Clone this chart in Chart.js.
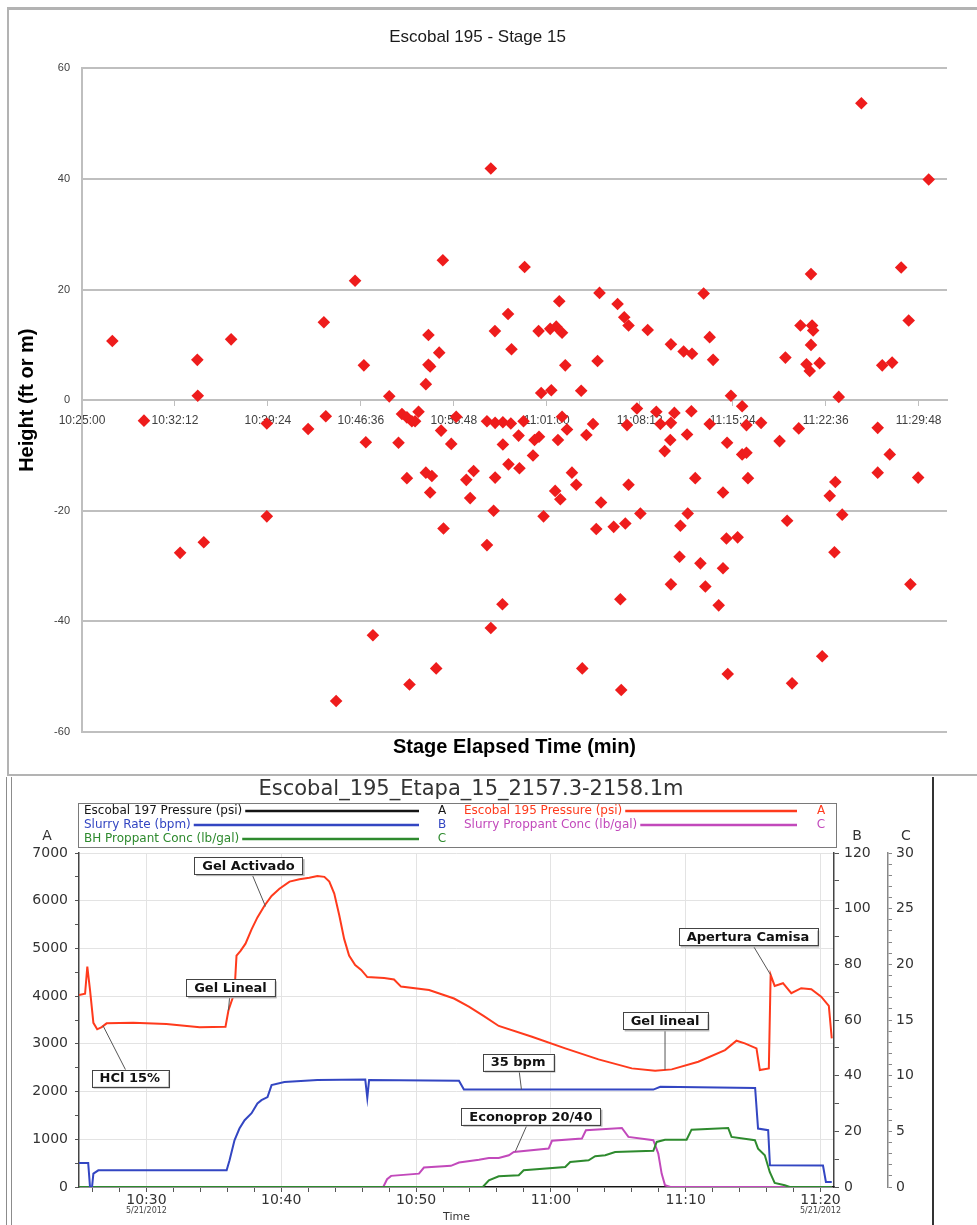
<!DOCTYPE html>
<html lang="en">
<head>
<meta charset="UTF-8">
<title>Escobal 195 - Stage 15</title>
<script src="https://cdn.jsdelivr.net/npm/chart.js"></script>
<style>
  body { margin: 0; background: #fff; width: 977px; height: 1225px; position: relative; overflow: hidden; }
  #topChart { position: absolute; left: 8px; top: 8px; }
  #bottomChart { position: absolute; left: 10px; top: 777px; }
  .frame { position: absolute; pointer-events: none; box-sizing: border-box; }
</style>
</head>
<body>
<div class="frame" style="left:7px;top:7px;width:970px;height:769px;border-top:3px solid #b3b3b3;border-left:2px solid #b3b3b3;border-bottom:2px solid #b3b3b3"></div>
<div class="frame" style="left:6px;top:777px;width:1px;height:448px;background:#8c8c8c"></div>
<div class="frame" style="left:11px;top:777px;width:1px;height:448px;background:#8c8c8c"></div>
<div class="frame" style="left:932px;top:777px;width:2px;height:448px;background:#333"></div>
<canvas id="topChart" width="969" height="767"></canvas>
<canvas id="bottomChart" width="921" height="448"></canvas>

<script>
// ---------- top chart data (microseismic events) ----------
const scatterTimes = [
  '10:27:21','10:29:48','10:32:36','10:33:56','10:33:58','10:34:26','10:36:33','10:39:19','10:39:19','10:42:31',
  '10:43:44','10:43:53','10:44:41','10:46:09','10:46:50','10:46:59','10:47:32','10:48:48','10:49:31','10:49:47',
  '10:50:10','10:50:10','10:50:22','10:50:33','10:50:48','10:51:04','10:51:38','10:51:38','10:51:50','10:51:50',
  '10:51:58','10:51:58','10:52:06','10:52:26','10:52:40','10:52:49','10:52:57','10:53:00','10:53:36','10:53:59',
  '10:54:46','10:55:04','10:55:20','10:56:22','10:56:22','10:56:40','10:56:40','10:56:53','10:56:59','10:57:00',
  '10:57:00','10:57:34','10:57:36','10:57:36','10:58:00','10:58:02','10:58:13','10:58:16','10:58:49','10:58:53',
  '10:59:12','10:59:17','10:59:56','11:00:03','11:00:22','11:00:24','11:00:34','11:00:45','11:01:16','11:01:21',
  '11:01:39','11:01:44','11:01:52','11:01:58','11:02:03','11:02:11','11:02:11','11:02:26','11:02:34','11:02:57',
  '11:03:17','11:03:40','11:03:45','11:04:04','11:04:35','11:04:50','11:04:56','11:05:05','11:05:12','11:06:11',
  '11:06:29','11:06:42','11:06:46','11:07:00','11:07:05','11:07:13','11:07:20','11:07:20','11:07:59','11:08:15',
  '11:08:49','11:09:29','11:09:48','11:10:08','11:10:34','11:10:37','11:10:37','11:10:37','11:10:53','11:11:17',
  '11:11:21','11:11:36','11:11:52','11:11:55','11:12:12','11:12:15','11:12:30','11:12:54','11:13:09','11:13:17',
  '11:13:37','11:13:37','11:13:53','11:14:19','11:14:39','11:14:39','11:14:55','11:14:58','11:15:01','11:15:16',
  '11:15:47','11:16:08','11:16:08','11:16:28','11:16:28','11:16:35','11:17:36','11:19:02','11:19:29','11:19:37',
  '11:20:00','11:20:31','11:20:39','11:21:07','11:21:22','11:21:28','11:21:28','11:21:33','11:21:38','11:22:08',
  '11:22:20','11:22:55','11:23:17','11:23:21','11:23:37','11:23:53','11:25:22','11:26:38','11:26:38','11:26:59',
  '11:27:34','11:27:45','11:28:27','11:29:02','11:29:10','11:29:46','11:30:35'
];
const scatterHeights = [
  10.7, -3.7, -27.6, 7.3, 0.8, -25.7, 11.0, -4.2, -21.0, -5.2,
  14.1, -2.9, -54.4, 21.6, 6.3, -7.6, -42.5, 0.7, -7.7, -2.5,
  -3.1, -14.1, -51.4, -3.8, -3.8, -2.1, 2.9, -13.1, 11.8, 6.4,
  6.1, -16.7, -13.7, -48.5, 8.6, -5.5, 25.3, -23.2, -7.9, -3.0,
  -14.4, -17.7, -12.8, -3.8, -26.2, 41.9, -41.2, -20.0, 12.5, -4.1,
  -14.0, -36.9, -4.0, -8.0, 15.6, -11.6, -4.2, 9.2, -6.4, -12.3,
  -3.8, 24.1, -10.0, -7.2, 12.5, -6.6, 1.3, -21.0, 12.9, 1.8,
  -16.4, 13.3, -7.2, 17.9, -17.9, 12.2, -3.0, 6.3, -5.3, -13.1,
  -15.3, 1.7, -48.5, -6.3, -4.3, -23.3, 7.1, 19.4, -18.5, -22.9,
  17.4, -36.0, -52.4, 15.0, -22.3, -4.5, 13.5, -15.3, -1.5, -20.5,
  12.7, -2.1, -4.3, -9.2, -7.2, 10.1, -4.1, -33.3, -2.3, -28.3,
  -22.7, 8.8, -6.2, -20.5, -2.0, 8.4, -14.1, -29.5, 19.3, -33.7,
  11.4, -4.3, 7.3, -37.1, -16.7, -30.4, -25.0, -7.7, -49.5, 0.8,
  -24.8, -1.1, -9.8, -9.5, -4.5, -14.1, -4.1, -7.4, 7.7, -21.8,
  -51.2, -5.1, 13.5, 6.5, 5.3, 22.8, 10.0, 13.5, 12.6, 6.7,
  -46.3, -17.3, -27.5, -14.8, 0.6, -20.7, 53.7, -5.0, -13.1, 6.3,
  -9.8, 6.8, 24.0, 14.4, -33.3, -14.0, 39.9
];
const scatterXTicks = ['10:25:00','10:32:12','10:39:24','10:46:36','10:53:48','11:01:00','11:08:12','11:15:24','11:22:36','11:29:48'];
const scatterRange = ['10:25:00', '11:32:00'];
const heightTicks = [-60, -40, -20, 0, 20, 40, 60];

// ---------- bottom chart data (treatment plot) ----------
const press197Times = ['10:25:00', '11:21:00'];
const press197Values = [0, 0];

const press195Times = ['10:25:00','10:25:27','10:25:37','10:25:49','10:26:04','10:26:21','10:26:41','10:27:03','10:29:01','10:31:29',
  '10:33:57','10:35:52','10:36:05','10:36:23','10:36:32','10:36:41','10:36:59','10:37:21','10:37:48','10:38:14',
  '10:38:46','10:39:17','10:39:52','10:40:37','10:41:21','10:42:05','10:42:41','10:43:12','10:43:34','10:43:56',
  '10:44:18','10:44:40','10:45:02','10:45:29','10:45:56','10:46:23','10:47:38','10:48:22','10:48:53','10:50:58',
  '10:52:49','10:53:55','10:55:02','10:56:08','10:58:36','11:01:04','11:03:32','11:06:00','11:07:44','11:08:58',
  '11:10:56','11:12:55','11:13:46','11:14:23','11:15:15','11:15:30','11:16:10','11:16:18','11:16:36','11:17:13',
  '11:17:50','11:18:34','11:19:19','11:20:03','11:20:37','11:20:50'];
const press195Values = [4025, 4050, 4620, 4130, 3440, 3305, 3350, 3430, 3440, 3417,
  3347, 3360, 3700, 3950, 4100, 4850, 4950, 5100, 5400, 5650,
  5900, 6100, 6250, 6400, 6450, 6480, 6520, 6500, 6400, 6150,
  5700, 5200, 4850, 4650, 4550, 4400, 4380, 4350, 4200, 4130,
  3950, 3780, 3580, 3375, 3150, 2906, 2675, 2486, 2436, 2465,
  2625, 2870, 3066, 3011, 2906, 2450, 2486, 4446, 4215, 4271,
  4061, 4166, 4145, 3990, 3795, 3116];

const rateTimes = ['10:25:00','10:25:41','10:25:49','10:25:58','10:26:04','10:26:26','10:35:57','10:36:10','10:36:32','10:36:54',
  '10:37:17','10:37:48','10:38:14','10:38:32','10:38:59','10:39:17','10:40:14','10:42:41','10:46:14','10:46:23',
  '10:46:31','10:53:11','10:53:33','11:07:36','11:08:07','11:15:09','11:15:22','11:16:07','11:16:15','11:20:11',
  '11:20:24','11:20:50'];
const rateValues = [8.6, 8.6, 0, 0, 4.8, 6.0, 6.0, 9.6, 16.8, 21,
  24, 26.5, 30, 31.2, 32.3, 36.6, 37.7, 38.4, 38.6, 32,
  38.4, 38.2, 35.0, 35.0, 36.0, 35.6, 21, 20.4, 7.8, 7.7,
  1.8, 1.8];

const slurryConcTimes = ['10:25:00','10:47:34','10:47:51','10:48:09','10:50:13','10:50:35','10:52:35','10:53:11','10:54:40','10:55:24',
  '10:56:08','10:56:53','10:57:15','10:59:50','11:00:05','11:02:18','11:02:36','11:05:16','11:05:45','11:07:36',
  '11:07:58','11:08:13','11:08:28','11:08:52','11:20:50'];
const slurryConcValues = [0, 0, 0.7, 1.0, 1.2, 1.75, 1.9, 2.2, 2.45, 2.6,
  2.6, 2.85, 3.15, 3.45, 4.15, 4.35, 5.1, 5.3, 4.5, 4.2,
  3.0, 1.2, 0.15, 0, 0];

const bhConcTimes = ['10:25:00','10:54:57','10:55:24','10:56:08','10:57:37','10:57:59','11:01:04','11:01:26','11:02:48','11:03:17',
  '11:04:02','11:04:46','11:07:36','11:07:51','11:08:28','11:10:04','11:10:26','11:13:09','11:13:24','11:15:08',
  '11:15:22','11:15:52','11:16:14','11:16:36','11:17:21','11:17:43','11:20:50'];
const bhConcValues = [0, 0, 0.6, 0.96, 1.05, 1.5, 1.8, 2.25, 2.4, 2.76,
  2.85, 3.15, 3.25, 4.05, 4.25, 4.25, 5.15, 5.3, 4.5, 4.2,
  3.45, 2.85, 1.35, 0.36, 0.15, 0, 0];

const treatRange = ['10:25:00', '11:21:00'];
const timeTicks = ['10:30', '10:40', '10:50', '11:00', '11:10', '11:20'];
const dateTicks = ['10:30', '11:20'];
const dateText = '5/21/2012';
const axisATicks = [0, 1000, 2000, 3000, 4000, 5000, 6000, 7000];
const axisBTicks = [0, 20, 40, 60, 80, 100, 120];
const axisCTicks = [0, 5, 10, 15, 20, 25, 30];

const annotations = [
  { text: 'HCl 15%', axis: 'yA', at: ['10:26:47', 3380], box: ['10:28:46', 2283] },
  { text: 'Gel Lineal', axis: 'yA', at: ['10:36:05', 3700], box: ['10:36:14', 4173] },
  { text: 'Gel Activado', axis: 'yA', at: ['10:38:50', 5880], box: ['10:37:34', 6735] },
  { text: '35 bpm', axis: 'yB', at: ['10:57:49', 35], box: ['10:57:34', 44.9] },
  { text: 'Econoprop 20/40', axis: 'yC', at: ['10:57:22', 3.2], box: ['10:58:31', 6.36] },
  { text: 'Gel lineal', axis: 'yA', at: ['11:08:28', 2450], box: ['11:08:28', 3480] },
  { text: 'Apertura Camisa', axis: 'yA', at: ['11:16:18', 4446], box: ['11:14:37', 5240] }
];

// ---------- helpers ----------
function toSec(t) {
  const p = t.split(':').map(Number);
  return p[0] * 3600 + p[1] * 60 + (p[2] || 0);
}
function pad2(n) { return String(n).padStart(2, '0'); }
function fmtTime(s, withSec) {
  const h = Math.floor(s / 3600), m = Math.floor((s % 3600) / 60), sec = Math.round(s % 60);
  return withSec ? h + ':' + pad2(m) + ':' + pad2(sec) : h + ':' + pad2(m);
}

// ---------- top chart ----------
const topFont = "'Liberation Sans', Arial, sans-serif";

new Chart(document.getElementById('topChart'), {
  type: 'scatter',
  data: {
    datasets: [{
      data: scatterTimes.map((t, i) => ({ x: toSec(t), y: scatterHeights[i] })),
      pointStyle: 'rectRot',
      pointRadius: 6.3,
      pointHoverRadius: 6.3,
      backgroundColor: '#ee1c1c',
      borderColor: '#ee1c1c',
      borderWidth: 0
    }]
  },
  options: {
    responsive: false,
    animation: false,
    devicePixelRatio: 1,
    layout: { padding: { left: 0, right: 30, top: 0, bottom: 0 } },
    plugins: {
      legend: { display: false },
      tooltip: { enabled: false },
      title: {
        display: true,
        text: 'Escobal 195 - Stage 15',
        color: '#1a1a1a',
        font: { family: topFont, size: 17, weight: 'normal', lineHeight: 1.2 },
        padding: { top: 19, bottom: 21 }
      }
    },
    scales: {
      x: {
        type: 'linear',
        position: { y: 0 },
        min: toSec(scatterRange[0]),
        max: toSec(scatterRange[1]),
        afterBuildTicks: s => { s.ticks = scatterXTicks.map(t => ({ value: toSec(t) })); },
        ticks: {
          callback: v => fmtTime(v, true),
          color: '#404040',
          font: { family: topFont, size: 12 },
          padding: 8,
          maxRotation: 0,
          autoSkip: false
        },
        grid: { drawOnChartArea: false, drawTicks: true, tickLength: 5, tickColor: '#bfbfbf' },
        border: { color: '#bfbfbf', width: 2 }
      },
      xTitle: {
        type: 'linear',
        axis: 'x',
        position: 'bottom',
        min: 0,
        max: 1,
        afterFit: s => { s.height = 43; },
        ticks: { display: false },
        grid: { display: false },
        border: { display: false },
        title: {
          display: true,
          text: 'Stage Elapsed Time (min)',
          color: '#000',
          font: { family: topFont, size: 20, weight: 'bold', lineHeight: 1.2 },
          padding: { top: 0, bottom: 16 }
        }
      },
      y: {
        min: -60,
        max: 60,
        afterBuildTicks: s => { s.ticks = heightTicks.map(v => ({ value: v })); },
        afterFit: s => { s.width = 74; },
        ticks: { color: '#404040', font: { family: topFont, size: 11 }, padding: 12 },
        grid: { color: '#bfbfbf', lineWidth: 2, drawTicks: false },
        border: { color: '#bfbfbf', width: 2 },
        title: {
          display: true,
          text: 'Height (ft or m)',
          color: '#000',
          font: { family: topFont, size: 20, weight: 'bold', lineHeight: 1.2 },
          padding: { top: 7, bottom: 0 }
        }
      }
    }
  }
});

// ---------- bottom chart ----------
const botFont = "'DejaVu Sans', sans-serif";

const series = [
  { label: 'Escobal 197 Pressure (psi)', letter: 'A', axis: 'yA', color: '#141414', times: press197Times, values: press197Values, order: 5 },
  { label: 'Escobal 195 Pressure (psi)', letter: 'A', axis: 'yA', color: '#ff3a1c', times: press195Times, values: press195Values, order: 1 },
  { label: 'Slurry Rate (bpm)', letter: 'B', axis: 'yB', color: '#3346c2', times: rateTimes, values: rateValues, order: 2 },
  { label: 'Slurry Proppant Conc (lb/gal)', letter: 'C', axis: 'yC', color: '#c249bb', times: slurryConcTimes, values: slurryConcValues, order: 4 },
  { label: 'BH Proppant Conc (lb/gal)', letter: 'C', axis: 'yC', color: '#2e8a2e', times: bhConcTimes, values: bhConcValues, order: 3 }
];

// title, legend box and axis letters
const headerPlugin = {
  id: 'header',
  afterDraw(chart) {
    const ctx = chart.ctx;
    ctx.save();
    ctx.fillStyle = '#333';
    ctx.font = '21px ' + botFont;
    ctx.textAlign = 'center';
    ctx.textBaseline = 'middle';
    ctx.fillText('Escobal_195_Etapa_15_2157.3-2158.1m', 461, 13);

    // legend
    ctx.fillStyle = '#fff';
    ctx.fillRect(68, 26, 758, 44);
    ctx.strokeStyle = '#7a7a7a';
    ctx.lineWidth = 1;
    ctx.strokeRect(68.5, 26.5, 758, 44);
    const colText = [74, 454], colLineEnd = [409, 787], colLetter = [432, 811];
    ctx.font = '12px ' + botFont;
    series.forEach((s, i) => {
      const row = Math.floor(i / 2), col = i % 2;
      const y = 34 + row * 14;
      ctx.fillStyle = s.color;
      ctx.textAlign = 'left';
      ctx.fillText(s.label, colText[col], y);
      const x0 = colText[col] + ctx.measureText(s.label).width + 3;
      ctx.strokeStyle = s.color;
      ctx.lineWidth = 2.5;
      ctx.beginPath();
      ctx.moveTo(x0, y);
      ctx.lineTo(colLineEnd[col], y);
      ctx.stroke();
      ctx.textAlign = 'center';
      ctx.fillText(s.letter, colLetter[col], y);
    });

    // axis letters
    ctx.fillStyle = '#333';
    ctx.font = '14px ' + botFont;
    ctx.textAlign = 'center';
    ctx.fillText('A', 37, 59);
    ctx.fillText('B', 847, 59);
    ctx.fillText('C', 896, 59);

    // date under first and last time label
    const xs = chart.scales.x;
    ctx.font = '8px ' + botFont;
    ctx.fillStyle = '#444';
    dateTicks.forEach(t => {
      ctx.fillText(dateText, xs.getPixelForValue(toSec(t)), 434);
    });
    ctx.restore();
  }
};

// callout boxes with leader lines
const calloutPlugin = {
  id: 'callouts',
  afterDatasetsDraw(chart) {
    const ctx = chart.ctx, xs = chart.scales.x;
    ctx.save();
    ctx.font = 'bold 13px ' + botFont;
    ctx.textAlign = 'center';
    ctx.textBaseline = 'middle';
    annotations.forEach(a => {
      const ys = chart.scales[a.axis];
      const ax = xs.getPixelForValue(toSec(a.at[0])), ay = ys.getPixelForValue(a.at[1]);
      const bx = xs.getPixelForValue(toSec(a.box[0])), by = ys.getPixelForValue(a.box[1]);
      const w = ctx.measureText(a.text).width + 16, h = 17;
      ctx.strokeStyle = '#555';
      ctx.lineWidth = 1;
      ctx.beginPath();
      ctx.moveTo(bx, by);
      ctx.lineTo(ax, ay);
      ctx.stroke();
      ctx.fillStyle = '#b5b5b5';
      ctx.fillRect(bx - w / 2 + 2, by - h / 2 + 2, w, h);
      ctx.fillStyle = '#fff';
      ctx.fillRect(bx - w / 2, by - h / 2, w, h);
      ctx.strokeStyle = '#444';
      ctx.strokeRect(Math.round(bx - w / 2) + 0.5, Math.round(by - h / 2) + 0.5, Math.round(w), h);
      ctx.fillStyle = '#111';
      ctx.fillText(a.text, bx, by + 1);
    });
    ctx.restore();
  }
};

function stepTicks(min, max, step) {
  const out = [];
  for (let v = min; v <= max + 1e-9; v += step) out.push({ value: v });
  return out;
}

const treatMin = toSec(treatRange[0]), treatMax = toSec(treatRange[1]);
const majorTimes = timeTicks.map(toSec);

new Chart(document.getElementById('bottomChart'), {
  type: 'line',
  data: {
    datasets: series.map(s => ({
      label: s.label,
      data: s.times.map((t, i) => ({ x: toSec(t), y: s.values[i] })),
      yAxisID: s.axis,
      borderColor: s.color,
      borderWidth: 2,
      pointRadius: 0,
      tension: 0,
      fill: false,
      order: s.order
    }))
  },
  plugins: [headerPlugin, calloutPlugin],
  options: {
    responsive: false,
    animation: false,
    devicePixelRatio: 1,
    layout: { padding: { left: 0, right: 0, top: 76, bottom: 0 } },
    plugins: { legend: { display: false }, tooltip: { enabled: false } },
    scales: {
      x: {
        type: 'linear',
        position: 'bottom',
        min: treatMin,
        max: treatMax,
        afterBuildTicks: s => { s.ticks = stepTicks(toSec('10:26'), treatMax, 120); },
        afterFit: s => { s.height = 38; },
        ticks: {
          callback: v => majorTimes.includes(v) ? fmtTime(v, false) : '',
          color: '#333',
          font: { family: botFont, size: 14 },
          padding: 0,
          maxRotation: 0,
          autoSkip: false
        },
        grid: {
          color: ctx => (ctx.tick && majorTimes.includes(ctx.tick.value)) ? '#e3e3e3' : 'transparent',
          tickColor: '#555',
          tickLength: 5
        },
        border: { color: '#444', width: 1.5 },
        title: {
          display: true,
          text: 'Time',
          color: '#333',
          font: { family: botFont, size: 11, lineHeight: 1.2 },
          padding: { top: 0, bottom: 1 }
        }
      },
      yA: {
        type: 'linear',
        position: 'left',
        min: 0,
        max: 7000,
        afterBuildTicks: s => { s.ticks = stepTicks(0, 7000, 500); },
        afterFit: s => { s.width = 69; },
        ticks: {
          callback: v => axisATicks.includes(v) ? String(v) : '',
          color: '#333',
          font: { family: botFont, size: 14 },
          padding: 7,
          autoSkip: false
        },
        grid: {
          color: ctx => (ctx.tick && axisATicks.includes(ctx.tick.value)) ? '#e3e3e3' : 'transparent',
          tickColor: '#555',
          tickLength: 4
        },
        border: { color: '#444', width: 1.5 }
      },
      yB: {
        type: 'linear',
        position: 'right',
        weight: 0,
        min: 0,
        max: 120,
        afterBuildTicks: s => { s.ticks = stepTicks(0, 120, 10); },
        afterFit: s => { s.width = 54; },
        ticks: {
          callback: v => axisBTicks.includes(v) ? String(v) : '',
          color: '#333',
          font: { family: botFont, size: 14 },
          padding: 5,
          autoSkip: false
        },
        grid: { drawOnChartArea: false, tickColor: '#555', tickLength: 5 },
        border: { color: '#444', width: 1.5 }
      },
      yC: {
        type: 'linear',
        position: 'right',
        weight: 1,
        min: 0,
        max: 30,
        afterBuildTicks: s => { s.ticks = stepTicks(0, 30, 1); },
        afterFit: s => { s.width = 43; },
        ticks: {
          callback: v => axisCTicks.includes(v) ? String(v) : '',
          color: '#333',
          font: { family: botFont, size: 14 },
          padding: 4,
          autoSkip: false
        },
        grid: { drawOnChartArea: false, tickColor: '#888', tickLength: 4 },
        border: { color: '#888', width: 1.5 }
      }
    }
  }
});
</script>
</body>
</html>
